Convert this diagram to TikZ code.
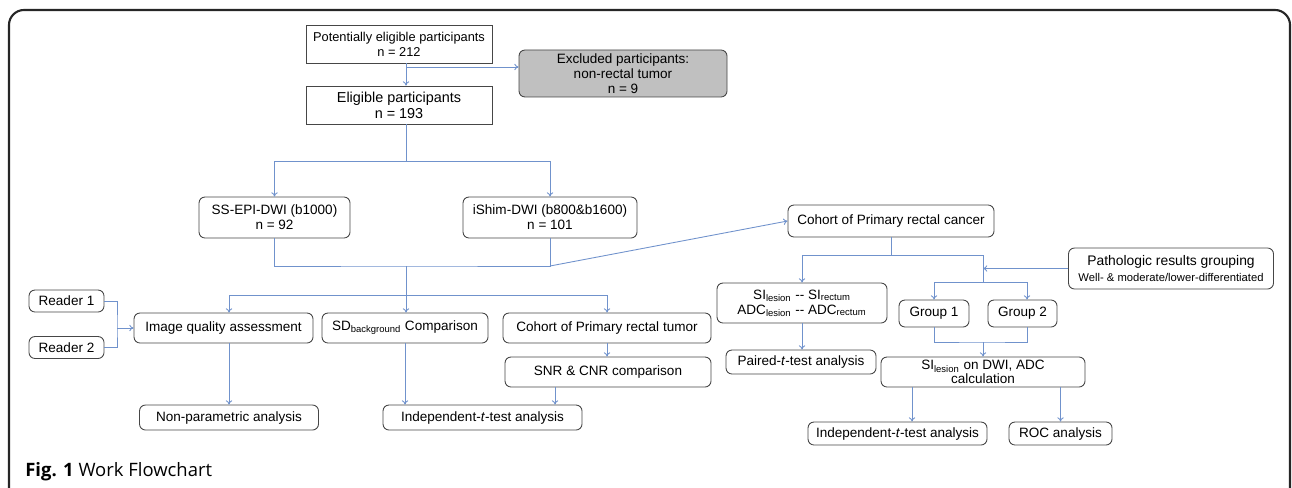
\documentclass[tikz,border=0pt]{standalone}
\usepackage{fontspec}
\setmainfont{Liberation Sans}
\newfontfamily\capfont{Open Sans}
\usetikzlibrary{arrows.meta}

\definecolor{flowblue}{RGB}{112,146,204}
\definecolor{boxline}{RGB}{70,70,70}
\definecolor{exclgray}{RGB}{192,192,192}

\tikzset{
    sqbox/.style={draw=boxline, line width=0.5pt, rectangle, align=center, inner sep=0cm, fill=white, font=\fontsize{7.7}{8.6}\selectfont},
    rbox/.style={sqbox, rounded corners=0.12cm},
    link/.style={draw=flowblue, line width=0.5pt},
    flow/.style={link, -{To[length=2.4pt, width=3.6pt]}}
}

\begin{document}
\begin{tikzpicture}
                \useasboundingbox (0,0) rectangle (25.84,-9.76);
                % outer frame
                \draw[black!85, line width=1.2pt, rounded corners=0.3cm] (0.18,-9.9) -- (0.18,-0.20) -- (25.80,-0.20) -- (25.80,-9.9);

                % participants
                \node[sqbox, minimum width=3.72cm, minimum height=0.76cm, font=\fontsize{7.3}{8.6}\selectfont] (potential) at (7.98, -0.88) {Potentially eligible participants\\n = 212};
                \node[rbox, fill=exclgray, minimum width=4.16cm, minimum height=0.94cm] (excluded) at (12.46, -1.47) {Excluded participants:\\non-rectal tumor\\n = 9};
                \node[sqbox, minimum width=3.72cm, minimum height=0.76cm, font=\fontsize{8.2}{9.2}\selectfont] (eligible) at (7.98, -2.10) {Eligible participants\\n = 193};

                % sequences
                \node[rbox, minimum width=3.02cm, minimum height=0.82cm] (ssepi) at (5.49, -4.35) {SS-EPI-DWI (b1000)\\n = 92};
                \node[rbox, minimum width=3.48cm, minimum height=0.82cm] (ishim) at (11.00, -4.35) {iShim-DWI (b800\&b1600)\\n = 101};

                % left branch
                \node[rbox, minimum width=1.50cm, minimum height=0.44cm] (reader 1) at (1.33, -6.02) {Reader 1};
                \node[rbox, minimum width=1.50cm, minimum height=0.44cm] (reader 2) at (1.33, -6.95) {Reader 2};
                \node[rbox, minimum width=3.58cm, minimum height=0.60cm] (quality) at (4.47, -6.56) {Image quality assessment};
                \node[rbox, minimum width=3.32cm, minimum height=0.60cm] (sdback) at (8.10, -6.56) {SD\textsubscript{background} Comparison};
                \node[rbox, minimum width=4.16cm, minimum height=0.60cm] (tumor) at (12.14, -6.56) {Cohort of Primary rectal tumor};
                \node[rbox, minimum width=4.12cm, minimum height=0.60cm] (snrcnr) at (12.16, -7.44) {SNR \& CNR comparison};
                \node[rbox, minimum width=3.58cm, minimum height=0.50cm] (nonpar) at (4.58, -8.35) {Non-parametric analysis};
                \node[rbox, minimum width=3.98cm, minimum height=0.50cm] (indep left) at (9.65, -8.35) {Independent-\textit{t}-test analysis};

                % right branch
                \node[rbox, minimum width=4.12cm, minimum height=0.64cm] (cancer) at (17.82, -4.42) {Cohort of Primary rectal cancer};
                \node[rbox, minimum width=4.10cm, minimum height=0.82cm] (patho) at (23.42, -5.37) {\fontsize{7.9}{9.4}\selectfont Pathologic results grouping\\\fontsize{6.4}{7}\selectfont Well- \& moderate/lower-differentiated};
                \node[rbox, minimum width=3.40cm, minimum height=0.80cm] (silesion) at (16.04, -6.06) {SI\textsubscript{lesion} -{}- SI\textsubscript{rectum}\\ADC\textsubscript{lesion} -{}- ADC\textsubscript{rectum}};
                \node[rbox, minimum width=1.40cm, minimum height=0.54cm] (group 1) at (18.68, -6.27) {Group 1};
                \node[rbox, minimum width=1.38cm, minimum height=0.54cm] (group 2) at (20.45, -6.27) {Group 2};
                \node[rbox, minimum width=3.00cm, minimum height=0.48cm] (paired) at (16.02, -7.24) {Paired-\textit{t}-test analysis};
                \node[rbox, minimum width=4.08cm, minimum height=0.60cm, font=\fontsize{7.7}{7.6}\selectfont] (calc) at (19.66, -7.44) {SI\textsubscript{lesion} on DWI, ADC\\calculation};
                \node[rbox, minimum width=3.58cm, minimum height=0.46cm] (indep right) at (17.95, -8.67) {Independent-\textit{t}-test analysis};
                \node[rbox, minimum width=2.06cm, minimum height=0.46cm] (roc) at (21.21, -8.67) {ROC analysis};

                \node[anchor=west, inner sep=0cm] (caption) at (0.50, -9.44) {\capfont\fontsize{10.5}{12}\selectfont\textbf{Fig. 1} Work Flowchart};

                % split and join points
                \coordinate (exclsplit) at (8.12, -1.34);
                \coordinate (eligsplit) at (8.12, -3.22);
                \coordinate (dwijoin) at (8.12, -5.32);
                \coordinate (qsplit) at (8.12, -5.90);
                \coordinate (readjoin) at (2.34, -6.56);
                \coordinate (snrout) at (11.10, -7.74);
                \coordinate (csplit) at (17.82, -5.10);
                \coordinate (gsplit) at (19.66, -5.64);
                \coordinate (gjoin) at (19.66, -6.84);
                \coordinate (calcout) at (18.24, -7.74);

                \draw[flow] ([xshift=0.14cm]potential.south) -- ([xshift=0.14cm]eligible.north);
                \draw[flow] (exclsplit) -- (excluded.west |- exclsplit);

                \draw[link] ([xshift=0.14cm]eligible.south) -- (eligsplit);
                \draw[flow] (eligsplit) -| (ssepi.north);
                \draw[flow] (eligsplit) -| (ishim.north);

                \draw[link] (ssepi.south) |- (dwijoin) -| (ishim.south);
                \draw[link] (dwijoin) -- (qsplit);
                \draw[flow] (qsplit) -| ([xshift=0.11cm]quality.north);
                \draw[flow] (qsplit) -- (qsplit |- sdback.north);
                \draw[flow] (qsplit) -| (tumor.north);
                \draw[flow] (ishim.south |- dwijoin) -- (cancer.west);

                \draw[link] (reader 1.east) -| (readjoin) |- (reader 2.east);
                \draw[flow] (readjoin) -- (quality.west);

                \draw[flow] (nonpar.north |- quality.south) -- (nonpar.north);
                \draw[flow] (sdback.south) -- (sdback.south |- indep left.north);
                \draw[flow] (tumor.south) -- (tumor.south |- snrcnr.north);
                \draw[flow] (snrout) -- (snrout |- indep left.north);

                \draw[link] (cancer.south) -- (csplit);
                \draw[flow] (csplit) -| (silesion.north);
                \draw[link] (csplit) -| (gsplit);
                \draw[flow] (patho.west) -- (patho.west -| gsplit);
                \draw[flow] (gsplit) -| (group 1.north);
                \draw[flow] (gsplit) -| ([xshift=0.09cm]group 2.north);

                \draw[link] (group 1.south) |- (gjoin) -| ([xshift=0.09cm]group 2.south);
                \draw[flow] (gjoin) -- (calc.north);
                \draw[flow] (silesion.south) -- (silesion.south |- paired.north);
                \draw[flow] (calcout) -- (calcout |- indep right.north);
                \draw[flow] (calc.south -| roc.north) -- (roc.north);
\end{tikzpicture}
\end{document}
